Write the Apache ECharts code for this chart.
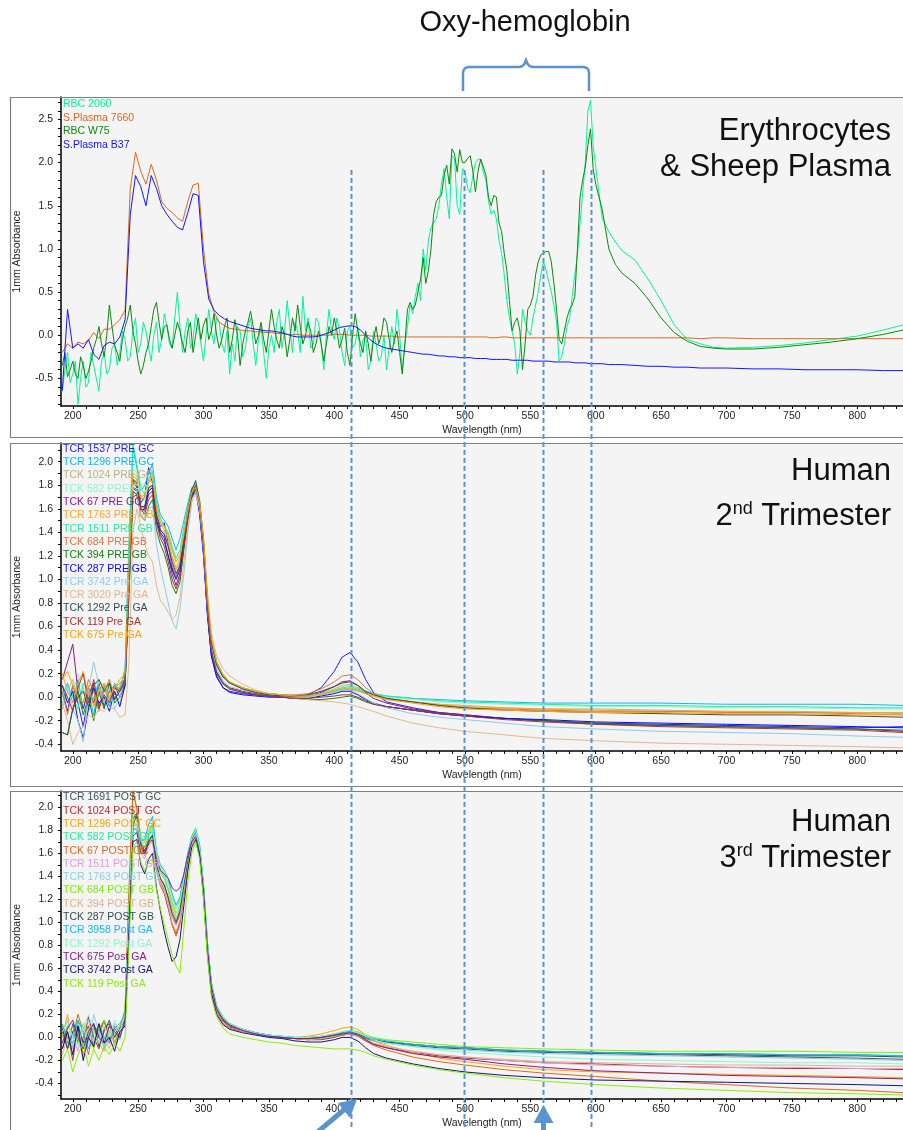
<!doctype html>
<html lang="en">
<head>
<meta charset="utf-8">
<title>absorbance spectra</title>
<script src="https://cdn.jsdelivr.net/npm/echarts@6/dist/echarts.min.js"></script>
<style>
  body { margin: 0; background: #fff; }
  #chart { width: 903px; height: 1130px; }
</style>
</head>
<body>
<div id="chart"></div>
<script>
// ---------- panel 1 : erythrocytes & sheep plasma ----------
// plasma spectra are smooth, sampled every 4 nm
var wl1 = [192,196,200,204,208,212,216,220,224,228,232,236,240,244,248,252,256,260,264,268,
  272,276,280,284,288,292,296,300,304,308,312,316,320,324,328,332,336,340,344,348,
  352,356,360,364,368,372,376,380,384,388,392,396,400,404,408,412,416,420,424,428,
  432,436,440,444,448,452,456,460,464,468,472,476,480,484,488,492,496,500,504,508,
  512,516,520,524,528,532,536,540,544,548,552,556,560,564,568,572,576,580,584,588,
  592,596,600,605,610,615,620,630,640,650,660,670,680,690,700,720,740,760,780,800,820,835];
// red-cell spectra are noisy, sampled every 2 nm up to 600 nm
var wl1g = [192,194,196,198,200,202,204,206,208,210,212,214,216,218,220,222,224,226,228,230,
  232,234,236,238,240,242,244,246,248,250,252,254,256,258,260,262,264,266,268,270,
  272,274,276,278,280,282,284,286,288,290,292,294,296,298,300,302,304,306,308,310,
  312,314,316,318,320,322,324,326,328,330,332,334,336,338,340,342,344,346,348,350,
  352,354,356,358,360,362,364,366,368,370,372,374,376,378,380,382,384,386,388,390,
  392,394,396,398,400,402,404,406,408,410,412,414,416,418,420,422,424,426,428,430,
  432,434,436,438,440,442,444,446,448,450,452,454,456,458,460,462,464,466,468,470,
  472,474,476,478,480,482,484,486,488,490,492,494,496,498,500,502,504,506,508,510,
  512,514,516,518,520,522,524,526,528,530,532,534,536,538,540,542,544,546,548,550,
  552,554,556,558,560,562,564,566,568,570,572,574,576,578,580,582,584,586,588,590,
  592,594,596,598,600,605,610,615,620,630,640,650,660,670,680,690,700,720,740,760,780,800,820,835];

var rbc2060 = [
  -0.65,-0.4,-0.2,-0.55,-0.45,-0.3,-0.8,-0.5,-0.3,-0.6,
  -0.55,-0.2,-0.35,-0.5,-0.65,-0.3,-0.2,-0.45,-0.4,-0.15,
  -0.1,-0.35,-0.2,0.05,-0.05,-0.3,-0.25,0.05,0.2,-0.2,
  -0.1,0.15,0.05,-0.15,-0.3,0.0,0.15,-0.2,-0.05,0.25,
  0.1,-0.1,-0.15,0.2,0.5,0.1,-0.2,0.05,0.2,-0.15,
  -0.05,0.25,0.1,-0.1,-0.3,0.0,0.3,0.05,-0.1,0.2,
  0.15,-0.1,-0.2,0.05,-0.45,-0.1,-0.3,0.1,0.05,-0.25,
  -0.15,0.1,0.2,-0.1,-0.35,-0.05,0.1,-0.2,-0.5,-0.15,
  0.0,-0.2,0.15,0.3,-0.15,0.05,0.4,0.1,-0.2,0.15,
  0.05,-0.2,0.45,0.05,0.2,-0.15,-0.1,0.2,0.15,-0.1,
  -0.4,0.0,0.3,0.05,-0.05,0.2,0.05,-0.2,-0.35,0.05,
  0.1,-0.15,-0.1,0.1,-0.25,-0.05,0.0,-0.4,-0.3,0.05,
  -0.1,-0.3,-0.25,0.0,-0.4,-0.15,0.1,-0.1,0.3,0.0,
  -0.4,-0.1,0.1,0.35,0.25,0.45,0.6,0.4,1.0,0.75,
  1.1,1.25,1.3,1.35,1.5,1.75,1.93,1.6,1.35,2.08,
  2.05,1.5,1.4,1.93,1.9,1.7,1.65,1.85,2.0,2.04,
  2.04,1.89,1.8,1.55,1.4,1.45,1.35,1.1,0.95,0.7,
  0.4,0.2,0.05,-0.1,-0.45,-0.2,0.3,0.15,0.05,0.0,
  0.2,0.35,0.5,0.7,0.85,0.75,0.62,0.5,0.35,0.15,
  -0.3,-0.25,-0.1,0.1,0.2,0.45,0.7,0.93,1.3,1.65,
  2.0,2.6,2.72,2.2,1.95,
  1.35,1.2,1.08,0.98,0.87,0.65,0.4,0.12,-0.05,-0.1,-0.14,-0.15,-0.14,-0.12,-0.09,-0.05,-0.01,0.06,0.12];

var rbcW75 = [
  -0.35,-0.2,-0.48,-0.4,-0.3,-0.45,-0.5,-0.25,-0.35,-0.5,
  -0.42,-0.3,-0.15,-0.05,0.1,-0.1,-0.25,0.0,0.35,0.1,
  -0.12,-0.2,-0.3,-0.05,0.1,0.2,0.35,0.05,-0.1,-0.3,
  -0.45,-0.35,-0.2,-0.1,0.1,0.3,0.38,0.15,-0.05,0.1,
  0.12,-0.05,-0.15,0.0,0.15,0.05,-0.1,-0.2,0.05,0.15,
  -0.2,0.0,0.2,-0.05,0.12,0.2,-0.05,0.05,0.25,0.0,
  -0.15,-0.05,0.1,0.2,-0.2,-0.05,0.18,0.0,-0.35,-0.1,
  0.05,0.15,0.28,0.1,-0.1,0.0,0.15,-0.05,-0.2,0.05,
  0.3,0.1,-0.05,-0.15,0.1,0.0,-0.25,-0.05,0.2,0.05,
  0.35,0.1,-0.1,0.0,0.15,0.05,-0.2,-0.1,0.05,-0.1,
  -0.3,-0.1,0.1,0.0,0.2,0.05,-0.15,-0.05,0.08,-0.2,
  -0.35,0.0,0.25,0.05,-0.1,-0.2,0.05,-0.1,-0.3,-0.05,
  0.1,-0.1,0.0,0.2,0.15,-0.05,-0.2,-0.05,0.05,-0.2,
  -0.45,-0.1,0.3,0.38,0.3,0.35,0.5,0.65,0.9,0.6,
  0.75,1.0,1.4,1.55,1.6,1.62,1.85,1.97,1.75,2.16,
  2.1,1.89,2.15,2.0,2.0,2.05,2.08,1.9,1.66,1.9,
  2.04,1.95,1.85,1.6,1.5,1.62,1.6,1.3,1.2,0.95,
  0.75,0.4,0.05,0.15,0.2,0.05,-0.4,-0.1,0.3,0.35,
  0.45,0.7,0.85,0.93,0.95,0.97,0.97,0.85,0.6,0.3,
  -0.05,-0.1,0.05,0.2,0.3,0.35,0.45,1.0,1.6,1.8,
  1.95,2.2,2.39,1.93,1.75,
  1.45,1.0,0.82,0.72,0.6,0.42,0.2,0.03,-0.07,-0.13,-0.15,-0.16,-0.16,-0.14,-0.11,-0.08,-0.04,0.01,0.06];

var plasma7660 = [-0.2,-0.1,-0.15,-0.08,-0.1,-0.06,0.03,-0.04,0.07,0.07,
  0.12,0.18,0.29,1.7,2.12,1.9,1.75,1.98,1.8,1.55,
  1.47,1.42,1.36,1.32,1.55,1.74,1.76,1.0,0.48,0.27,
  0.15,0.11,0.08,0.07,0.06,0.05,0.05,0.04,0.04,0.03,
  0.03,0.02,0.02,0.01,0.01,0.01,0.0,0.0,0.0,0.0,
  0.0,0.0,0.01,0.01,0.01,0.0,0.0,0.0,0.0,-0.01,
  -0.01,-0.01,-0.01,-0.01,-0.02,-0.02,-0.02,
  -0.02,-0.02,-0.02,-0.02,-0.02,-0.02,-0.02,-0.02,-0.02,-0.02,
  -0.02,-0.02,-0.02,-0.02,-0.02,-0.03,-0.03,-0.02,-0.02,-0.03,
  -0.03,-0.03,-0.03,-0.03,-0.03,-0.03,-0.03,-0.03,-0.03,-0.03,
  -0.03,-0.03,-0.03,-0.03,-0.03,-0.03,
  -0.03,-0.03,-0.03,-0.03,-0.03,-0.03,-0.03,-0.03,-0.03,-0.04,-0.03,-0.03,-0.04,-0.04,-0.04,-0.04,-0.04,-0.04,-0.04];

var plasmaB37 = [-0.64,0.3,-0.15,-0.1,-0.15,-0.05,-0.22,-0.28,-0.12,-0.08,
  -0.1,-0.02,0.18,1.4,1.85,1.72,1.5,1.85,1.7,1.5,
  1.4,1.32,1.25,1.22,1.42,1.64,1.62,0.85,0.42,0.29,
  0.23,0.19,0.16,0.14,0.12,0.1,0.08,0.07,0.06,0.05,
  0.05,0.04,0.03,0.01,-0.01,-0.02,-0.02,-0.02,-0.02,-0.01,
  0.01,0.03,0.06,0.09,0.1,0.11,0.1,0.06,0.0,-0.06,
  -0.1,-0.13,-0.15,-0.16,-0.17,-0.18,-0.19,
  -0.2,-0.21,-0.22,-0.22,-0.23,-0.24,-0.24,-0.25,-0.25,-0.26,
  -0.26,-0.26,-0.27,-0.27,-0.27,-0.28,-0.28,-0.28,-0.28,-0.29,
  -0.29,-0.29,-0.29,-0.3,-0.3,-0.3,-0.3,-0.31,-0.31,-0.31,
  -0.31,-0.32,-0.32,-0.32,-0.33,-0.33,
  -0.33,-0.34,-0.34,-0.34,-0.35,-0.36,-0.36,-0.37,-0.37,-0.38,-0.38,-0.38,-0.39,-0.39,-0.4,-0.4,-0.4,-0.41,-0.41];

var names1 = ['RBC 2060', 'S.Plasma 7660', 'RBC W75', 'S.Plasma B37'];
var colors1 = ['#00f59a', '#d9681e', '#0b8a0b', '#1414ff'];
var values1 = [rbc2060, plasma7660, rbcW75, plasmaB37];
var grids1 = [wl1g, wl1, wl1g, wl1];

// ---------- panels 2 and 3 share one wavelength grid ----------
var wl2 = [192,196,200,204,208,212,216,220,224,228,232,236,240,
  243,246,249,252,255,258,261,264,267,270,273,276,279,282,285,288,291,294,297,300,303,306,
  310,315,320,330,340,350,360,370,380,390,400,406,412,418,424,430,
  440,460,480,500,530,560,600,650,700,750,800,835];

// 2nd trimester (PRE)
var pre1537 = [0.05,-0.12,0.10,-0.05,-0.25,0.02,0.12,-0.08,0.05,0.15,-0.02,0.08,0.15,
  1.1,1.85,1.78,1.65,1.7,1.95,1.82,1.55,1.45,1.48,1.3,1.1,1.02,1.12,1.35,1.55,1.72,1.76,1.55,1.2,0.7,0.35,
  0.18,0.08,0.05,0.03,0.02,0.01,0.0,0.0,0.02,0.08,0.22,0.34,0.38,0.3,0.15,0.04,
  -0.04,-0.09,-0.13,-0.15,-0.18,-0.2,-0.22,-0.23,-0.24,-0.25,-0.26,-0.25];
var pre1296 = [0.0,0.12,-0.05,0.15,-0.1,0.05,-0.15,0.1,0.02,-0.08,0.12,0.05,0.25,
  1.3,2.12,1.95,1.75,1.8,1.9,1.98,1.7,1.55,1.5,1.45,1.35,1.25,1.35,1.5,1.65,1.78,1.78,1.62,1.3,0.8,0.45,
  0.28,0.17,0.12,0.08,0.05,0.03,0.02,0.01,0.01,0.02,0.04,0.06,0.07,0.06,0.04,0.03,
  0.01,-0.01,-0.02,-0.03,-0.04,-0.05,-0.05,-0.05,-0.06,-0.06,-0.06,-0.07];
var pre1024 = [-0.1,0.05,0.15,-0.02,0.08,-0.12,0.0,0.1,-0.05,0.06,0.0,-0.05,0.1,
  0.9,1.8,1.85,1.6,1.62,1.75,1.8,1.55,1.42,1.4,1.3,1.18,1.08,1.15,1.35,1.55,1.7,1.76,1.62,1.3,0.82,0.48,
  0.3,0.19,0.13,0.08,0.05,0.03,0.01,0.0,0.0,0.02,0.05,0.07,0.08,0.06,0.03,0.01,
  -0.02,-0.04,-0.06,-0.07,-0.09,-0.1,-0.1,-0.11,-0.12,-0.12,-0.13,-0.13];
var pre582 = [0.08,-0.05,0.02,0.2,0.05,-0.08,0.1,0.0,0.12,0.04,-0.05,0.1,0.2,
  1.2,1.95,1.9,1.72,1.68,1.82,1.9,1.62,1.5,1.45,1.38,1.25,1.15,1.22,1.42,1.6,1.75,1.8,1.65,1.32,0.85,0.5,
  0.3,0.19,0.13,0.08,0.05,0.03,0.02,0.01,0.01,0.03,0.06,0.09,0.1,0.08,0.05,0.03,
  0.0,-0.02,-0.04,-0.05,-0.06,-0.07,-0.08,-0.08,-0.09,-0.09,-0.1,-0.1];
var pre67 = [0.15,0.3,0.45,0.05,-0.1,0.08,-0.05,0.12,-0.08,0.05,0.1,0.0,0.12,
  1.0,1.75,1.72,1.6,1.58,1.72,1.75,1.5,1.38,1.32,1.2,1.05,0.95,1.05,1.3,1.52,1.7,1.76,1.6,1.25,0.75,0.4,
  0.22,0.12,0.08,0.05,0.03,0.02,0.01,0.0,0.01,0.04,0.09,0.13,0.14,0.1,0.04,-0.01,
  -0.05,-0.1,-0.13,-0.15,-0.18,-0.2,-0.23,-0.24,-0.25,-0.26,-0.27,-0.29];
var pre1763 = [0.2,0.05,-0.05,0.12,0.22,0.0,0.08,-0.1,0.05,0.15,0.02,0.1,0.2,
  1.15,1.9,1.88,1.68,1.7,1.85,1.82,1.6,1.48,1.42,1.35,1.2,1.1,1.18,1.38,1.58,1.74,1.8,1.68,1.35,0.85,0.5,
  0.3,0.19,0.13,0.08,0.05,0.03,0.02,0.01,0.01,0.03,0.07,0.1,0.11,0.08,0.05,0.02,
  -0.01,-0.04,-0.06,-0.08,-0.09,-0.1,-0.11,-0.12,-0.12,-0.13,-0.13,-0.14];
var pre1511 = [-0.05,0.1,0.0,-0.1,0.12,0.05,-0.02,0.15,0.08,-0.05,0.1,0.05,0.22,
  1.3,2.15,1.98,1.78,1.72,1.85,1.92,1.65,1.52,1.45,1.4,1.28,1.18,1.25,1.45,1.62,1.76,1.82,1.68,1.35,0.85,0.5,
  0.3,0.19,0.13,0.08,0.05,0.03,0.02,0.01,0.01,0.03,0.06,0.08,0.09,0.07,0.05,0.03,
  0.01,-0.01,-0.03,-0.04,-0.05,-0.06,-0.07,-0.07,-0.08,-0.08,-0.09,-0.09];
var pre684 = [0.05,-0.15,0.1,0.0,-0.05,0.15,0.05,-0.12,0.1,-0.02,0.08,0.12,0.15,
  1.0,1.82,1.8,1.62,1.6,1.78,1.8,1.55,1.42,1.38,1.28,1.12,1.02,1.1,1.32,1.55,1.72,1.78,1.64,1.32,0.82,0.48,
  0.28,0.18,0.12,0.07,0.04,0.03,0.02,0.02,0.03,0.07,0.13,0.18,0.19,0.15,0.08,0.03,
  -0.01,-0.04,-0.07,-0.09,-0.1,-0.11,-0.12,-0.12,-0.13,-0.13,-0.14,-0.15];
var pre394 = [-0.3,-0.32,-0.1,0.05,-0.15,0.0,-0.2,0.05,-0.1,0.12,-0.05,0.0,0.1,
  0.85,1.7,1.72,1.55,1.5,1.62,1.68,1.42,1.3,1.22,1.1,0.95,0.88,0.98,1.25,1.5,1.7,1.78,1.62,1.25,0.72,0.38,
  0.2,0.11,0.07,0.04,0.02,0.01,0.0,-0.01,-0.02,-0.02,-0.01,0.0,0.01,-0.01,-0.04,-0.06,
  -0.08,-0.11,-0.14,-0.16,-0.18,-0.2,-0.22,-0.24,-0.25,-0.26,-0.27,-0.28];
var pre287 = [0.1,-0.05,0.05,-0.2,-0.35,-0.1,0.08,-0.05,0.0,-0.12,0.05,-0.08,0.1,
  0.95,1.78,1.75,1.58,1.6,1.75,1.78,1.5,1.4,1.35,1.2,1.08,1.0,1.08,1.3,1.52,1.7,1.75,1.58,1.22,0.7,0.35,
  0.17,0.08,0.04,0.02,0.01,0.0,0.0,-0.01,-0.01,0.01,0.03,0.05,0.05,0.02,-0.02,-0.05,
  -0.08,-0.11,-0.14,-0.16,-0.18,-0.19,-0.21,-0.22,-0.23,-0.24,-0.25,-0.26];
var pre3742 = [0.0,0.1,-0.1,-0.2,-0.38,0.05,0.3,0.1,-0.05,0.08,-0.1,0.0,0.15,
  0.95,1.8,1.75,1.55,1.5,1.6,1.62,1.3,1.1,0.95,0.8,0.65,0.58,0.75,1.05,1.4,1.65,1.75,1.6,1.25,0.75,0.42,
  0.24,0.14,0.09,0.06,0.04,0.02,0.01,0.0,0.0,0.02,0.04,0.06,0.06,0.03,-0.01,-0.05,
  -0.09,-0.14,-0.17,-0.19,-0.22,-0.25,-0.27,-0.29,-0.3,-0.31,-0.33,-0.34];
var pre3020 = [-0.05,-0.2,-0.4,-0.3,-0.25,-0.15,-0.18,-0.1,-0.12,-0.08,-0.1,-0.17,-0.15,
  0.3,1.4,1.6,1.45,1.3,1.2,1.15,0.95,0.82,0.78,0.72,0.66,0.7,0.85,1.15,1.45,1.68,1.72,1.6,1.35,0.9,0.55,
  0.35,0.24,0.18,0.11,0.06,0.03,0.01,-0.01,-0.02,-0.03,-0.04,-0.05,-0.06,-0.08,-0.1,-0.12,
  -0.16,-0.22,-0.26,-0.29,-0.32,-0.35,-0.37,-0.39,-0.4,-0.41,-0.42,-0.43];
var pre1292 = [-0.3,-0.32,-0.1,0.0,0.05,-0.08,0.1,0.15,0.05,0.12,-0.02,0.05,0.15,
  1.05,1.85,1.82,1.62,1.62,1.78,1.8,1.55,1.42,1.38,1.28,1.15,1.05,1.12,1.35,1.58,1.76,1.84,1.66,1.32,0.82,0.47,
  0.27,0.17,0.12,0.07,0.04,0.02,0.01,0.01,0.02,0.05,0.09,0.12,0.13,0.1,0.05,0.02,
  -0.01,-0.04,-0.07,-0.09,-0.11,-0.12,-0.13,-0.14,-0.15,-0.15,-0.16,-0.17];
var pre119 = [0.1,0.0,-0.12,0.08,0.2,-0.05,0.15,-0.1,0.02,-0.05,0.08,0.05,0.12,
  0.95,1.75,1.78,1.6,1.55,1.68,1.72,1.48,1.35,1.28,1.15,1.0,0.92,1.02,1.28,1.52,1.72,1.8,1.65,1.28,0.75,0.4,
  0.21,0.12,0.07,0.04,0.02,0.01,0.0,-0.01,-0.01,0.0,0.01,0.02,0.02,0.0,-0.03,-0.06,
  -0.08,-0.11,-0.14,-0.16,-0.19,-0.21,-0.23,-0.25,-0.26,-0.27,-0.28,-0.3];
var pre675 = [0.15,0.22,0.1,0.0,-0.05,0.1,-0.08,0.05,0.12,0.0,0.08,0.15,0.2,
  1.1,1.88,1.85,1.7,1.72,1.82,1.88,1.6,1.48,1.45,1.38,1.25,1.15,1.2,1.38,1.58,1.74,1.78,1.66,1.35,0.86,0.5,
  0.3,0.19,0.13,0.08,0.05,0.03,0.02,0.01,0.01,0.03,0.05,0.07,0.07,0.05,0.03,0.01,
  -0.02,-0.05,-0.08,-0.1,-0.11,-0.12,-0.13,-0.13,-0.14,-0.14,-0.15,-0.15];

var names2 = ['TCR 1537 PRE GC','TCR 1296 PRE GC','TCK 1024 PRE GC','TCK 582 PRE GC','TCK 67 PRE GC',
  'TCR 1763 PRE GB','TCR 1511 PRE GB','TCK 684 PRE GB','TCK 394 PRE GB','TCK 287 PRE GB',
  'TCR 3742 Pre GA','TCR 3020 Pre GA','TCK 1292 Pre GA','TCK 119 Pre GA','TCK 675 Pre GA'];
var colors2 = ['#1e1eff','#10b8f0','#bcb27c','#8cf5d2','#8a1a8a','#ffa81e','#1ef0a0','#dc7840',
  '#148214','#0a0aff','#8ccde8','#e0b88c','#2f4f4f','#a83232','#ffa500'];
var values2 = [pre1537,pre1296,pre1024,pre582,pre67,pre1763,pre1511,pre684,pre394,pre287,
  pre3742,pre3020,pre1292,pre119,pre675];

// 3rd trimester (POST)
var post1691 = [0.05,-0.1,0.12,-0.05,0.0,0.1,-0.08,0.05,0.15,-0.02,0.08,0.0,0.15,
  1.0,1.9,1.95,1.7,1.62,1.72,1.75,1.5,1.38,1.32,1.2,1.05,0.98,1.08,1.3,1.52,1.7,1.78,1.62,1.28,0.8,0.45,
  0.26,0.16,0.11,0.07,0.04,0.02,0.0,-0.01,-0.02,-0.02,0.0,0.02,0.03,0.02,-0.01,-0.03,
  -0.05,-0.07,-0.09,-0.1,-0.12,-0.13,-0.14,-0.15,-0.16,-0.17,-0.18,-0.19];
var post1024 = [-0.1,0.05,-0.2,0.1,-0.05,0.18,0.0,-0.1,0.08,0.12,-0.05,0.05,0.1,
  0.9,1.85,1.95,1.65,1.6,1.7,1.72,1.45,1.32,1.25,1.12,0.98,0.9,1.0,1.25,1.5,1.68,1.76,1.6,1.25,0.76,0.42,
  0.24,0.14,0.09,0.06,0.03,0.01,0.0,-0.01,-0.02,-0.01,0.01,0.03,0.03,0.01,-0.03,-0.06,
  -0.09,-0.13,-0.16,-0.18,-0.2,-0.22,-0.23,-0.25,-0.26,-0.27,-0.27,-0.28];
var post1296 = [0.0,0.2,-0.1,0.05,-0.15,0.0,0.1,-0.05,-0.12,0.05,0.0,0.1,0.2,
  1.2,2.12,2.0,1.75,1.7,1.8,1.85,1.58,1.45,1.38,1.28,1.12,1.02,1.1,1.32,1.55,1.72,1.8,1.66,1.32,0.82,0.47,
  0.27,0.17,0.12,0.07,0.04,0.02,0.01,0.0,0.01,0.03,0.06,0.08,0.09,0.07,0.02,-0.03,
  -0.07,-0.13,-0.18,-0.21,-0.25,-0.28,-0.3,-0.31,-0.32,-0.33,-0.34,-0.35];
var post582 = [0.1,-0.05,0.05,0.15,-0.1,0.02,0.12,0.0,-0.08,0.1,0.05,-0.02,0.2,
  1.1,1.95,1.92,1.72,1.68,1.78,1.85,1.6,1.48,1.42,1.35,1.22,1.12,1.2,1.4,1.6,1.75,1.82,1.68,1.34,0.84,0.48,
  0.28,0.18,0.12,0.07,0.04,0.02,0.01,0.0,-0.01,0.0,0.02,0.04,0.04,0.03,0.0,-0.02,
  -0.04,-0.06,-0.08,-0.09,-0.11,-0.12,-0.13,-0.14,-0.14,-0.15,-0.15,-0.16];
var post67 = [0.12,-0.05,0.0,0.2,0.05,-0.15,0.08,0.0,0.15,-0.05,0.1,0.05,0.25,
  1.3,2.15,1.98,1.65,1.58,1.7,1.75,1.48,1.35,1.28,1.15,0.98,0.88,0.98,1.25,1.5,1.7,1.78,1.6,1.25,0.75,0.4,
  0.22,0.12,0.08,0.05,0.03,0.01,0.0,-0.01,-0.02,-0.01,0.01,0.02,0.03,0.01,-0.03,-0.07,
  -0.11,-0.17,-0.21,-0.24,-0.28,-0.31,-0.34,-0.38,-0.41,-0.44,-0.46,-0.48];
var post1511 = [-0.05,0.1,0.0,-0.12,0.08,0.15,-0.05,0.05,0.0,0.1,-0.08,0.02,0.15,
  1.0,1.82,1.85,1.62,1.58,1.7,1.72,1.48,1.36,1.3,1.18,1.05,0.97,1.06,1.3,1.52,1.7,1.78,1.63,1.28,0.78,0.44,
  0.25,0.15,0.1,0.06,0.03,0.01,0.0,-0.01,-0.01,0.0,0.02,0.04,0.04,0.02,-0.02,-0.05,
  -0.08,-0.12,-0.15,-0.17,-0.2,-0.22,-0.24,-0.25,-0.26,-0.26,-0.27,-0.27];
var post1763 = [0.05,0.15,-0.08,0.0,0.1,-0.05,0.2,0.05,-0.1,0.0,0.12,0.05,0.18,
  1.05,1.88,1.85,1.68,1.65,1.75,1.8,1.55,1.42,1.38,1.28,1.15,1.05,1.12,1.35,1.56,1.72,1.8,1.65,1.3,0.8,0.45,
  0.26,0.16,0.11,0.07,0.04,0.02,0.01,0.0,-0.01,0.0,0.02,0.04,0.05,0.03,0.0,-0.03,
  -0.05,-0.08,-0.1,-0.11,-0.13,-0.14,-0.15,-0.16,-0.17,-0.18,-0.19,-0.2];
var post684 = [0.0,0.1,0.05,-0.05,0.12,0.0,-0.1,0.08,0.15,0.05,-0.05,0.1,0.2,
  1.1,1.9,1.88,1.7,1.65,1.76,1.82,1.58,1.46,1.4,1.3,1.18,1.08,1.15,1.38,1.58,1.74,1.8,1.66,1.32,0.82,0.46,
  0.27,0.17,0.12,0.07,0.04,0.02,0.01,0.0,0.0,0.01,0.03,0.05,0.06,0.05,0.02,0.0,
  -0.02,-0.04,-0.06,-0.08,-0.09,-0.1,-0.11,-0.12,-0.12,-0.12,-0.13,-0.13];
var post394 = [-0.15,0.0,-0.1,0.05,-0.2,0.08,-0.05,0.12,0.0,-0.1,0.05,0.1,0.12,
  0.95,1.8,1.82,1.6,1.55,1.66,1.7,1.45,1.33,1.27,1.15,1.0,0.92,1.02,1.27,1.5,1.68,1.76,1.62,1.28,0.78,0.44,
  0.25,0.15,0.1,0.06,0.03,0.01,0.0,-0.01,-0.02,-0.01,0.01,0.03,0.03,0.01,-0.02,-0.05,
  -0.08,-0.12,-0.15,-0.17,-0.19,-0.21,-0.22,-0.23,-0.24,-0.24,-0.25,-0.25];
var post287 = [0.08,-0.1,0.05,0.1,-0.05,0.0,0.12,-0.08,0.05,0.15,0.0,0.08,0.15,
  1.0,1.85,1.92,1.68,1.6,1.7,1.76,1.5,1.38,1.33,1.22,1.08,1.0,1.1,1.32,1.54,1.72,1.8,1.64,1.3,0.8,0.46,
  0.26,0.16,0.11,0.07,0.04,0.02,0.0,-0.01,-0.01,0.0,0.02,0.04,0.05,0.03,0.0,-0.02,
  -0.04,-0.06,-0.08,-0.09,-0.11,-0.12,-0.13,-0.14,-0.15,-0.16,-0.16,-0.17];
var post3958 = [0.1,0.0,-0.05,0.15,0.05,-0.1,0.05,0.1,0.0,-0.05,0.08,0.12,0.2,
  1.05,1.82,1.8,1.7,1.72,1.85,1.92,1.62,1.5,1.45,1.38,1.25,1.15,1.22,1.42,1.6,1.74,1.8,1.66,1.32,0.82,0.47,
  0.27,0.17,0.12,0.07,0.04,0.02,0.01,0.0,0.0,0.01,0.03,0.04,0.05,0.04,0.01,-0.01,
  -0.03,-0.06,-0.08,-0.09,-0.11,-0.12,-0.13,-0.14,-0.14,-0.15,-0.15,-0.16];
var post1292 = [0.05,0.12,0.0,-0.08,0.1,0.2,0.05,-0.05,0.1,0.0,0.15,0.05,0.2,
  1.1,1.9,1.88,1.72,1.68,1.78,1.82,1.6,1.48,1.42,1.34,1.22,1.12,1.18,1.38,1.58,1.73,1.8,1.65,1.32,0.82,0.46,
  0.27,0.17,0.12,0.07,0.04,0.02,0.01,0.0,0.0,0.01,0.03,0.05,0.06,0.04,0.01,-0.02,
  -0.05,-0.08,-0.11,-0.13,-0.15,-0.17,-0.19,-0.2,-0.21,-0.22,-0.22,-0.23];
var post675 = [-0.05,0.08,0.15,0.0,-0.1,0.05,0.12,0.0,-0.05,0.1,0.05,0.0,0.15,
  0.95,1.75,1.78,1.6,1.6,1.68,1.72,1.55,1.45,1.42,1.38,1.3,1.27,1.3,1.42,1.58,1.7,1.74,1.6,1.28,0.78,0.44,
  0.25,0.15,0.1,0.06,0.03,0.01,0.0,-0.01,-0.01,0.0,0.02,0.03,0.04,0.02,-0.02,-0.06,
  -0.09,-0.14,-0.17,-0.19,-0.23,-0.26,-0.29,-0.31,-0.33,-0.34,-0.35,-0.36];
var post3742 = [-0.1,0.05,-0.15,0.1,-0.2,0.0,-0.08,0.12,-0.05,0.0,-0.12,0.05,0.1,
  0.9,1.7,1.72,1.5,1.42,1.55,1.6,1.3,1.1,0.92,0.78,0.66,0.7,0.85,1.15,1.45,1.65,1.72,1.58,1.22,0.72,0.38,
  0.2,0.11,0.07,0.04,0.02,0.0,-0.01,-0.03,-0.04,-0.04,-0.02,0.0,0.0,-0.03,-0.09,-0.14,
  -0.18,-0.23,-0.27,-0.3,-0.33,-0.35,-0.37,-0.38,-0.39,-0.4,-0.41,-0.42];
var post119 = [-0.2,-0.1,-0.3,-0.15,-0.05,-0.25,-0.1,-0.2,-0.08,-0.15,-0.05,-0.12,0.0,
  0.8,1.65,1.7,1.52,1.45,1.52,1.55,1.28,1.12,0.98,0.85,0.72,0.62,0.56,0.95,1.35,1.6,1.7,1.55,1.2,0.7,0.35,
  0.18,0.08,0.03,0.0,-0.02,-0.04,-0.05,-0.07,-0.08,-0.09,-0.1,-0.1,-0.1,-0.11,-0.13,-0.16,
  -0.19,-0.24,-0.28,-0.31,-0.35,-0.38,-0.41,-0.44,-0.46,-0.48,-0.49,-0.5];

var names3 = ['TCR 1691 POST GC','TCK 1024 POST GC','TCR 1296 POST GC','TCK 582 POST GC','TCK 67 POST GC',
  'TCR 1511 POST GB','TCR 1763 POST GB','TCK 684 POST GB','TCK 394 POST GB','TCK 287 POST GB',
  'TCR 3958 Post GA','TCK 1292 Post GA','TCK 675 Post GA','TCR 3742 Post GA','TCK 119 Post GA'];
var colors3 = ['#3c5a5a','#b03030','#ffa500','#1ef0a0','#d9681e','#dca0dc','#8ccde8','#7cf000',
  '#dcb48c','#2f4f4f','#10b8f0','#8cf5d2','#8a1a8a','#14147a','#86f000'];
var values3 = [post1691,post1024,post1296,post582,post67,post1511,post1763,post684,post394,post287,
  post3958,post1292,post675,post3742,post119];

// tick labels and marker wavelengths
var xLabels = [200,250,300,350,400,450,500,550,600,650,700,750,800];
var yLabels1 = [-0.5,0.0,0.5,1.0,1.5,2.0,2.5];
var yLabels23 = [-0.4,-0.2,0.0,0.2,0.4,0.6,0.8,1.0,1.2,1.4,1.6,1.8,2.0];
var markWl = [413, 499, 560, 596];

var FONT = '"Liberation Sans", Arial, sans-serif';
var chart = echarts.init(document.getElementById('chart'));

function pairs(xs, ys) {
  return xs.map(function (x, i) { return [x, ys[i]]; });
}
function ticks(from, to, step) {
  var out = [];
  for (var v = from; v <= to + 1e-9; v += step) out.push(Math.round(v * 100) / 100);
  return out;
}

var panels = [
  { top: 97,  height: 309, ymin: -0.82, ymax: 2.76,  yl: yLabels1,  yt: ticks(-0.8, 2.7, 0.1),
    wls: grids1, names: names1, colors: colors1, values: values1, legTop: 97.5, gap: 0.8 },
  { top: 443, height: 308, ymin: -0.457, ymax: 2.159, yl: yLabels23, yt: ticks(-0.4, 2.1, 0.1),
    wls: null, wl: wl2, names: names2, colors: colors2, values: values2, legTop: 442.5, gap: 0.3 },
  { top: 791, height: 308, ymin: -0.535, ymax: 2.141, yl: yLabels23, yt: ticks(-0.5, 2.1, 0.1),
    wls: null, wl: wl2, names: names3, colors: colors3, values: values3, legTop: 791, gap: 0.3 }
];

var grids = [], xAxes = [], yAxes = [], legends = [], series = [];
panels.forEach(function (p, k) {
  grids.push({ left: 61, right: 0, top: p.top, height: p.height, show: true,
    backgroundColor: '#f4f4f4', borderWidth: 0, outerBoundsMode: 'none' });
  xAxes.push({
    type: 'value', gridIndex: k, min: 191, max: 835,
    name: 'Wavelength (nm)', nameLocation: 'middle', nameGap: 19,
    nameTextStyle: { fontSize: 10.5, color: '#222', fontFamily: FONT },
    axisLine: { onZero: false, lineStyle: { color: '#000', width: 1.5 } },
    axisTick: { customValues: ticks(200, 830, 10), length: 3, lineStyle: { color: '#000' } },
    axisLabel: { customValues: xLabels, fontSize: 10.5, color: '#222', margin: 5, fontFamily: FONT },
    splitLine: { show: false }
  });
  yAxes.push({
    type: 'value', gridIndex: k, min: p.ymin, max: p.ymax,
    name: '1mm Absorbance', nameLocation: 'middle', nameGap: 38,
    nameTextStyle: { fontSize: 10.5, color: '#222', fontFamily: FONT },
    axisLine: { onZero: false, lineStyle: { color: '#000', width: 1.5 } },
    axisTick: { customValues: p.yt, length: 3, lineStyle: { color: '#000' } },
    axisLabel: { customValues: p.yl, fontSize: 10.5, color: '#222', margin: 8, fontFamily: FONT,
      formatter: function (v) { return v.toFixed(1); } },
    splitLine: { show: false }
  });
  legends.push({
    orient: 'vertical', left: 57, top: p.legTop, padding: 0, icon: 'none',
    itemWidth: 1, itemHeight: 13, itemGap: p.gap, selectedMode: false,
    textStyle: { fontSize: 10.5, lineHeight: 13, fontFamily: FONT },
    data: p.names.map(function (n, i) { return { name: n, textStyle: { color: p.colors[i] } }; })
  });
  p.names.forEach(function (n, i) {
    var xs = p.wls ? p.wls[i] : p.wl;
    series.push({
      name: n, type: 'line', xAxisIndex: k, yAxisIndex: k,
      data: pairs(xs, p.values[i]),
      showSymbol: false, symbol: 'none',
      lineStyle: { width: 1, color: p.colors[i] },
      itemStyle: { color: p.colors[i] },
      emphasis: { disabled: true }
    });
  });
});

chart.setOption({
  animation: false,
  backgroundColor: '#fff',
  grid: grids, xAxis: xAxes, yAxis: yAxes, legend: legends, series: series
});

// annotations: title, brace, panel frames, labels, marker lines, arrows
var BLUE = '#5b93d0';
var graphics = [
  { type: 'text', x: 525, y: 23, z: 20,
    style: { text: 'Oxy-hemoglobin', align: 'center', verticalAlign: 'middle',
      font: '29px ' + FONT, fill: '#111' } },
  { type: 'polyline', z: 20,
    shape: { points: [[463, 91], [463, 73], [463.6, 70], [465.2, 68], [468, 67], [519, 67], [522, 66.3],
      [524.4, 64], [526, 60], [527.6, 64], [530, 66.3], [533, 67], [584, 67], [586.8, 68],
      [588.4, 70], [589, 73], [589, 91]] },
    style: { stroke: BLUE, lineWidth: 2.5, fill: null } }
];
[[97, 340], [443, 343], [791, 350]].forEach(function (r) {
  graphics.push({ type: 'rect', z: 15, shape: { x: 10.5, y: r[0] + 0.5, width: 905, height: r[1] },
    style: { fill: null, stroke: '#808080', lineWidth: 1.2 } });
});
function label(text, x, y) {
  return { type: 'text', x: x, y: y, z: 20,
    style: { text: text, align: 'right', verticalAlign: 'middle', fill: '#111',
      rich: { n: { fontSize: 31, fontFamily: FONT }, s: { fontSize: 18, fontFamily: FONT, verticalAlign: 'top' } } } };
}
graphics.push(label('{n|Erythrocytes}', 891, 131));
graphics.push(label('{n|& Sheep Plasma}', 891, 167));
graphics.push(label('{n|Human}', 891, 471));
graphics.push(label('{n|2}{s|nd}{n| Trimester}', 891, 516));
graphics.push(label('{n|Human}', 891, 822));
graphics.push(label('{n|3}{s|rd}{n| Trimester}', 891, 858));

markWl.forEach(function (w) {
  var px = Math.round(chart.convertToPixel({ xAxisIndex: 0 }, w)) + 0.5;
  graphics.push({ type: 'line', z: 30, shape: { x1: px, y1: 170, x2: px, y2: 1130 },
    style: { stroke: BLUE, lineWidth: 2, lineDash: [5, 3] } });
});

// arrows at the bottom edge
graphics.push({ type: 'line', z: 31, shape: { x1: 308, y1: 1140, x2: 345, y2: 1109 },
  style: { stroke: BLUE, lineWidth: 5 } });
graphics.push({ type: 'polygon', z: 31, shape: { points: [[357, 1099], [338, 1103], [350, 1118]] },
  style: { fill: BLUE } });
var ax = Math.round(chart.convertToPixel({ xAxisIndex: 0 }, 560)) + 0.5;
graphics.push({ type: 'line', z: 31, shape: { x1: ax, y1: 1140, x2: ax, y2: 1120 },
  style: { stroke: BLUE, lineWidth: 5 } });
graphics.push({ type: 'polygon', z: 31, shape: { points: [[ax, 1105], [ax - 10, 1123], [ax + 10, 1123]] },
  style: { fill: BLUE } });

chart.setOption({ graphic: graphics });
</script>
</body>
</html>
